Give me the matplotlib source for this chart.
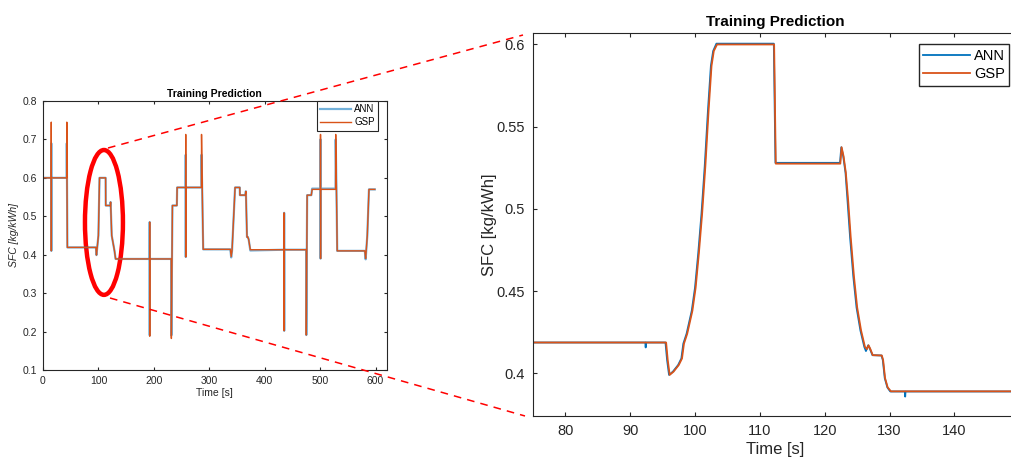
import matplotlib
matplotlib.use("Agg")
import matplotlib.pyplot as plt
from matplotlib.patches import Ellipse
from matplotlib.lines import Line2D

plt.rcParams['font.family'] = ['Liberation Sans', 'DejaVu Sans']

# full run, 0-600 s  (knots)
full_time = [0, 14.9, 15, 15.1, 15.2, 42.8, 43, 43.3, 44, 95.5, 96.5, 100, 102, 113, 113.2, 121.5, 122, 124, 129, 131,
             192.4, 192.5, 192.6, 192.7, 231.4, 231.6, 233.5, 241.5, 242, 257.4, 257.5, 257.6, 257.7,
             285.8, 286, 288, 289, 338, 339.5, 341, 346.5, 355, 355.2, 365, 366, 368, 369.5, 371, 374,
             434.9, 435, 435.1, 435.2, 474.9, 475, 476.5, 484, 485.5, 500.5, 500.6, 500.7, 500.8,
             527.8, 528, 530, 530.7, 580.5, 582, 585, 588, 598.5]
full_gsp = [0.6, 0.6, 0.745, 0.41, 0.6, 0.6, 0.745, 0.6, 0.419, 0.419, 0.399, 0.45, 0.6, 0.6, 0.528, 0.528, 0.537, 0.45, 0.41, 0.389,
            0.389, 0.485, 0.188, 0.389, 0.389, 0.182, 0.528, 0.528, 0.575, 0.575, 0.713, 0.394, 0.575,
            0.575, 0.713, 0.5, 0.414, 0.414, 0.395, 0.41, 0.575, 0.575, 0.555, 0.555, 0.565, 0.446, 0.446, 0.44, 0.413,
            0.413, 0.509, 0.202, 0.413, 0.413, 0.191, 0.555, 0.555, 0.570, 0.570, 0.713, 0.39, 0.570,
            0.570, 0.713, 0.5, 0.41, 0.41, 0.39, 0.45, 0.57, 0.57]
full_ann = [0.6, 0.6, 0.69, 0.41, 0.6, 0.6, 0.69, 0.6, 0.419, 0.419, 0.399, 0.45, 0.6, 0.6, 0.528, 0.528, 0.537, 0.45, 0.41, 0.389,
            0.389, 0.485, 0.19, 0.389, 0.389, 0.19, 0.528, 0.528, 0.575, 0.575, 0.66, 0.394, 0.575,
            0.575, 0.66, 0.5, 0.414, 0.414, 0.393, 0.41, 0.575, 0.575, 0.555, 0.555, 0.565, 0.446, 0.446, 0.44, 0.411,
            0.413, 0.509, 0.202, 0.413, 0.413, 0.191, 0.555, 0.555, 0.572, 0.572, 0.70, 0.39, 0.572,
            0.572, 0.70, 0.5, 0.41, 0.41, 0.388, 0.45, 0.57, 0.57]

# zoomed window, 75-149 s
zoom_time_gsp = [75, 95.55, 95.8, 96.1, 96.7, 97.5, 98.0, 98.3, 98.8, 99.6, 100.1, 100.6, 101.1, 101.6, 102.1, 102.55, 102.9, 103.4,
                 112.2, 112.45, 122.4, 122.6, 122.9, 123.25, 123.6, 124.0, 124.5, 125.0, 125.6, 126.2, 126.5, 126.75, 127.0,
                 127.4, 128.8, 129.0, 129.3, 129.7, 130.2, 149]
zoom_gsp = [0.4187, 0.4187, 0.408, 0.399, 0.401, 0.405, 0.409, 0.418, 0.424, 0.438, 0.452, 0.473, 0.497, 0.526, 0.560, 0.587, 0.596, 0.600,
            0.600, 0.5275, 0.5275, 0.5375, 0.532, 0.522, 0.5056, 0.483, 0.459, 0.440, 0.426, 0.416, 0.4147, 0.417, 0.415,
            0.411, 0.4108, 0.408, 0.397, 0.3914, 0.389, 0.389]
zoom_time_ann = [75, 92.35, 92.4, 92.45, 95.45, 95.7, 96.0, 96.6, 97.4, 97.9, 98.2, 98.7, 99.5, 100.0, 100.5, 101.0, 101.5, 102.0, 102.45, 102.8, 103.3,
                 112.15, 112.4, 122.35, 122.55, 122.85, 123.2, 123.5, 123.9, 124.4, 124.9, 125.5, 126.1, 126.35, 126.7, 126.95,
                 127.35, 128.75, 128.95, 129.25, 129.65, 130.1, 132.35, 132.4, 132.45, 149]
zoom_ann = [0.4187, 0.4187, 0.4157, 0.4187, 0.4187, 0.408, 0.399, 0.401, 0.405, 0.409, 0.418, 0.424, 0.438, 0.452, 0.473, 0.497, 0.526, 0.560, 0.587, 0.596, 0.6005,
            0.6005, 0.528, 0.528, 0.5375, 0.532, 0.522, 0.5056, 0.483, 0.459, 0.440, 0.426, 0.416, 0.4135, 0.417, 0.415,
            0.411, 0.4108, 0.408, 0.397, 0.3914, 0.3889, 0.3889, 0.3858, 0.3889, 0.3889]

ann_color = '#0072BD'
gsp_color = '#D95319'
ink = '#262626'


def style_axes(ax, size, pad):
    ax.tick_params(direction='in', top=True, right=True, labelsize=size, colors=ink, length=3, pad=pad)
    for s in ax.spines.values():
        s.set_color(ink)
        s.set_linewidth(0.8)


fig = plt.figure(figsize=(10.11, 4.65), dpi=100)

# left: whole run
ax1 = fig.add_axes([0.0425, 0.2043, 0.340, 0.5785])
ax1.plot(full_time, full_ann, color=ann_color, lw=1.6, alpha=0.55, label='ANN')
ax1.plot(full_time, full_gsp, color=gsp_color, lw=1.0, label='GSP')
ax1.set_xlim(0, 620)
ax1.set_ylim(0.1, 0.8)
ax1.set_xticks([0, 100, 200, 300, 400, 500, 600])
ax1.set_yticks([0.1, 0.2, 0.3, 0.4, 0.5, 0.6, 0.7, 0.8])
style_axes(ax1, 7.5, 4.5)
ax1.tick_params(length=2.5)
ax1.set_title('Training Prediction', fontsize=7.5, fontweight='bold', pad=3)
ax1.set_xlabel('Time [s]', fontsize=7.5, color=ink, labelpad=1.5)
ax1.set_ylabel('SFC [kg/kWh]', fontsize=7.5, color=ink, style='italic', labelpad=2)
leg1 = ax1.legend(loc='upper right', bbox_to_anchor=(0.975, 1.0), fontsize=7, fancybox=False, framealpha=1,
                  edgecolor=ink, borderaxespad=0, handlelength=3.2, borderpad=0.35, labelspacing=0.3,
                  handletextpad=0.3)
leg1.get_frame().set_linewidth(0.8)

ax1.add_patch(Ellipse((110, 0.484), 68.5, 0.377, fill=False, edgecolor='red', lw=3.2, clip_on=False))

# right: zoom
ax2 = fig.add_axes([0.527, 0.1054, 0.48, 0.8237])
ax2.plot(zoom_time_ann, zoom_ann, color=ann_color, lw=1.3, label='ANN')
ax2.plot(zoom_time_gsp, zoom_gsp, color=gsp_color, lw=1.3, label='GSP')
ax2.set_xlim(75, 149.8)
ax2.set_ylim(0.374, 0.607)
ax2.set_xticks([80, 90, 100, 110, 120, 130, 140])
ax2.set_yticks([0.4, 0.45, 0.5, 0.55, 0.6])
ax2.set_yticklabels(['0.4', '0.45', '0.5', '0.55', '0.6'])
style_axes(ax2, 10.5, 5.5)
ax2.set_title('Training Prediction', fontsize=11, fontweight='bold', pad=5)
ax2.set_xlabel('Time [s]', fontsize=12, color=ink, labelpad=3)
ax2.set_ylabel('SFC [kg/kWh]', fontsize=12, color=ink, labelpad=0)
leg2 = ax2.legend(loc='upper right', bbox_to_anchor=(0.982, 0.97), fontsize=10.5, fancybox=False, framealpha=1,
                  edgecolor=ink, borderaxespad=0, handlelength=3.2, borderpad=0.3, labelspacing=0.3, handletextpad=0.3)
leg2.get_frame().set_linewidth(1.0)

# dashed connector lines, figure pixel coords
W, H = 1011.0, 465.0
for (x0, y0), (x1, y1) in [((108, 148), (523, 35)), ((110, 298), (525, 416))]:
    fig.add_artist(Line2D([x0 / W, x1 / W], [1 - y0 / H, 1 - y1 / H], transform=fig.transFigure,
                          color='red', lw=1.1, ls=(0, (5, 4))))

fig.savefig('out.png', dpi=100)
